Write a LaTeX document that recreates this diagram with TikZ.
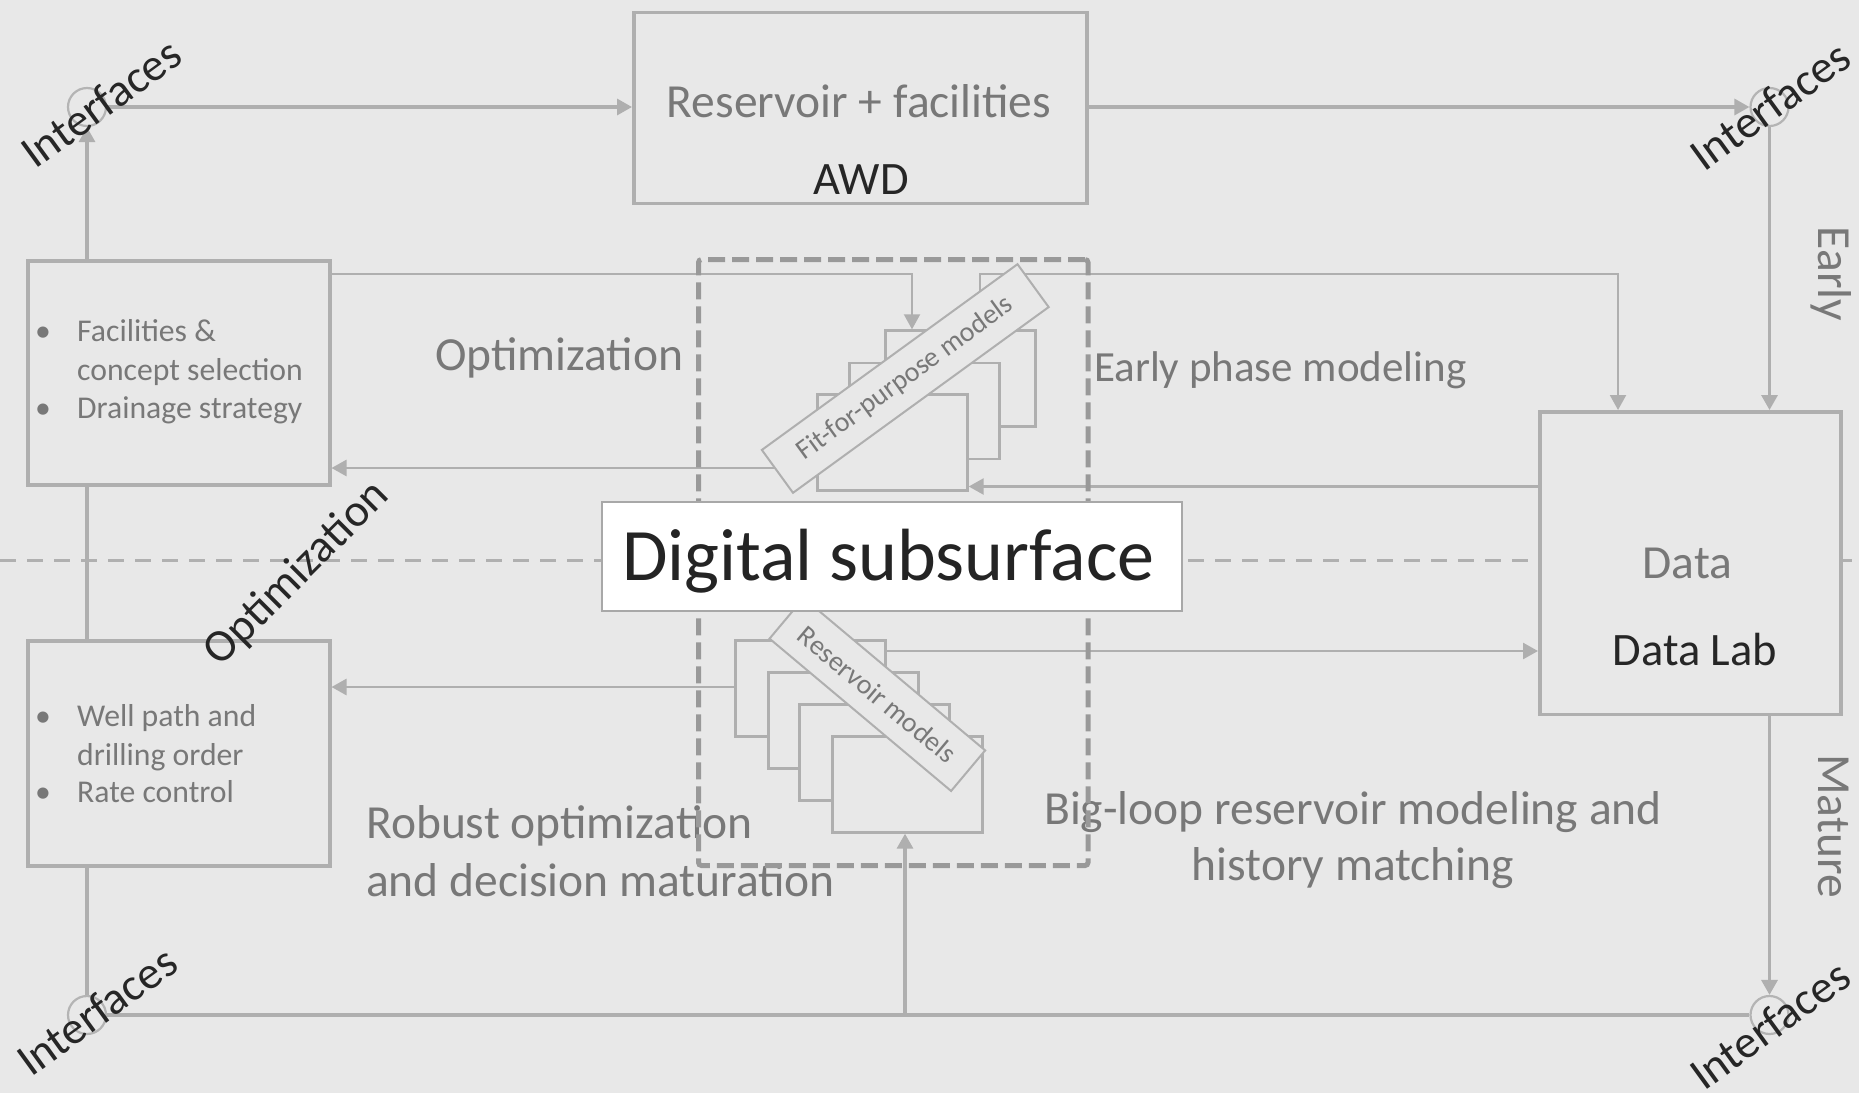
\documentclass[tikz,border=0pt]{standalone}
\usepackage{fontspec}
\setmainfont{Carlito}
\usetikzlibrary{arrows.meta}
\definecolor{bg}{HTML}{E8E8E8}
\definecolor{ln}{HTML}{AFAFAF}
\definecolor{ringc}{HTML}{B4B4B4}
\definecolor{txtg}{HTML}{787878}
\definecolor{txtd}{HTML}{262626}
\definecolor{dsh}{HTML}{999999}
\definecolor{hdash}{HTML}{B0B0B0}
\definecolor{dgb}{HTML}{A8A8A8}
\newcommand\myfs[1]{\fontsize{#1}{#1}\selectfont}
\begin{document}
\begin{tikzpicture}[x=1pt,y=-1pt,
  box/.style={draw=ln, line width=3.5pt, fill=bg, inner sep=0pt, anchor=north west},
  mrect/.style={draw=ln, line width=2.7pt, fill=bg, inner sep=0pt, anchor=north west, minimum width=150pt, minimum height=96pt},
  conn/.style={draw=ln, line width=3.2pt},
  midconn/.style={draw=ln, line width=2.6pt},
  thinconn/.style={draw=ln, line width=2.1pt},
  headed/.style={-{Triangle[length=15pt,width=16pt]}},
  ring/.style={circle, draw=ringc, line width=2.2pt, minimum size=38pt, inner sep=0pt},
  gtext/.style={text=txtg, inner sep=0pt},
  dtext/.style={text=txtd, inner sep=0pt},
  mlabel/.style={draw=ln, line width=2pt, fill=bg, text=txtg, inner sep=0pt, font=\myfs{28}},
  bul/.style={text=txtg, inner sep=0pt, anchor=base, font=\myfs{31.7}},
  btxt/.style={text=txtg, inner sep=0pt, anchor=base west, font=\myfs{31.7}},
  big/.style={font=\myfs{47.5}},
  iface/.style={text=txtd, inner sep=0pt, font=\myfs{46}, rotate=36},
]
% background
\fill[bg] (0,0) rectangle (1859,1093);
\useasboundingbox (0,0) rectangle (1859,1093);

% horizontal dashed divider
\draw[draw=hdash, line width=3pt, dash pattern=on 16pt off 11pt] (0,560.7) -- (1859,560.7);

% main boxes
\node[box, minimum width=453pt, minimum height=190.8pt] (res) at (632,10.7) {};
\node[box, minimum width=301pt, minimum height=302.5pt] (data) at (1538,410) {};
\node[box, minimum width=302pt, minimum height=224pt] (lt) at (26,259) {};
\node[box, minimum width=302pt, minimum height=225pt] (lb) at (26,639) {};

% model stacks
\node[mrect] (f3) at (884,329.3) {};
\node[mrect] (f2) at (848,361.7) {};
\node[mrect] (f1) at (816,393.3) {};
\node[mrect] (r1) at (734,639) {};
\node[mrect] (r2) at (767,671) {};
\node[mrect] (r3) at (798,703) {};
\node[mrect] (r4) at (831,735) {};

% interface rings
\node[ring] (c1) at (87,107) {};
\node[ring] (c2) at (1769.5,107) {};
\node[ring] (c3) at (87,1015) {};
\node[ring] (c4) at (1769.5,1015) {};

% helper coordinates
\coordinate (k1) at (912,274);
\coordinate (k2) at (980,274);
\coordinate (k3) at (1618,274);
\coordinate (k4) at (1200,486.5);
\coordinate (k5) at (600,468);
\coordinate (k6) at (1200,651);
\coordinate (k7) at (500,687);
\coordinate (bj) at (905,1015);

% connectors
\draw[conn,headed] (lt.north -| c1) -- (c1.south);
\draw[conn,headed] (c1.east) -- (c1.east -| res.west);
\draw[conn,headed] (res.east |- c2) -- (c2.west);
\draw[conn,headed] (c2.south) -- (c2.south |- data.north);
\draw[conn,headed] (data.south -| c4) -- (c4.north);
\draw[conn] (c3.east) -- (c4.west);
\draw[conn] (lb.south -| c3) -- (c3.north);
\draw[conn] (lt.south -| c1) -- (lb.north -| c1);
\draw[conn,headed] (bj) -- (bj |- r4.south);
\draw[thinconn,headed] (lt.east |- k1) -- (k1) -- (k1 |- f3.north);
\draw[thinconn,headed] (f3.north -| k2) -- (k2) -- (k3) -- (k3 |- data.north);
\draw[midconn,headed] (data.west |- k4) -- (k4 -| f1.east);
\draw[midconn,headed] (f1.west |- k5) -- (k5 -| lt.east);
\draw[midconn,headed] (r1.east |- k6) -- (k6 -| data.west);
\draw[midconn,headed] (r1.west |- k7) -- (k7 -| lb.east);

% model labels
\node[mlabel, rotate=36, minimum width=316pt, minimum height=53pt] (fl) at (905.25,378.5) {Fit-for-purpose models};
\node[mlabel, rotate=-40, minimum width=237pt, minimum height=53pt] (rl) at (877.35,694.5) {Reservoir models};

% box texts
\node[gtext, big, anchor=base] (t1) at (859,117) {Reservoir + facilities};
\node[dtext, font=\myfs{46.5}, anchor=base] (t2) at (861.3,194) {AWD};
\node[gtext, big, anchor=base] (t3) at (1687.5,578) {Data};
\node[dtext, font=\myfs{46.5}, anchor=base] (t4) at (1695,665) {Data Lab};
\node[gtext, big, rotate=-90, anchor=base] (t5) at (1818,274) {Early};
\node[gtext, big, rotate=-90, anchor=base] (t6) at (1818,826) {Mature};

% bullet lists
\node[bul] (b1) at (43,341.7) {•};
\node[btxt] (l1) at (77,341.7) {Facilities \&};
\node[btxt] (l2) at (77,380) {concept selection};
\node[bul] (b2) at (43,418.3) {•};
\node[btxt] (l3) at (77,418.3) {Drainage strategy};
\node[bul] (b3) at (43,726) {•};
\node[btxt] (l4) at (77,726) {Well path and};
\node[btxt] (l5) at (77,765) {drilling order};
\node[bul] (b4) at (43,802.7) {•};
\node[btxt] (l6) at (77,802.7) {Rate control};

% loop texts
\node[gtext, big, anchor=base west] (o1) at (435,370) {Optimization};
\node[gtext, font=\myfs{43}, anchor=base west] (o2) at (1094,381) {Early phase modeling};
\node[gtext, big, anchor=base west] (o3) at (366,838.3) {Robust optimization};
\node[gtext, big, anchor=base west] (o4) at (366,896.7) {and decision maturation};
\node[gtext, big, anchor=base] (o5) at (1353,824) {Big-loop reservoir modeling and};
\node[gtext, big, anchor=base] (o6) at (1353,880.7) {history matching};

% dashed frame of the digital subsurface
\node[draw=dsh, line width=5pt, dash pattern=on 17pt off 7pt, rounded corners=3pt, inner sep=0pt, anchor=north west, minimum width=389.5pt, minimum height=606pt] (frame) at (696,257) {};

% digital subsurface box
\node[draw=dgb, fill=white, line width=2pt, inner sep=0pt, anchor=north west, minimum width=580.2pt, minimum height=109.3pt] (ds) at (600.6,500.7) {};
\node[text=black!86, inner sep=0pt, anchor=base, font=\myfs{74}] (dst) at (888.3,580) {Digital subsurface};

% dark rotated texts
\node[iface] (i1) at (101,103) {Interfaces};
\node[iface] (i2) at (1770,105.5) {Interfaces};
\node[iface] (i3) at (96.7,1011) {Interfaces};
\node[iface] (i4) at (1769.7,1025) {Interfaces};
\node[dtext, font=\myfs{46}, rotate=45] (op) at (297,574) {Optimization};
\end{tikzpicture}
\end{document}
